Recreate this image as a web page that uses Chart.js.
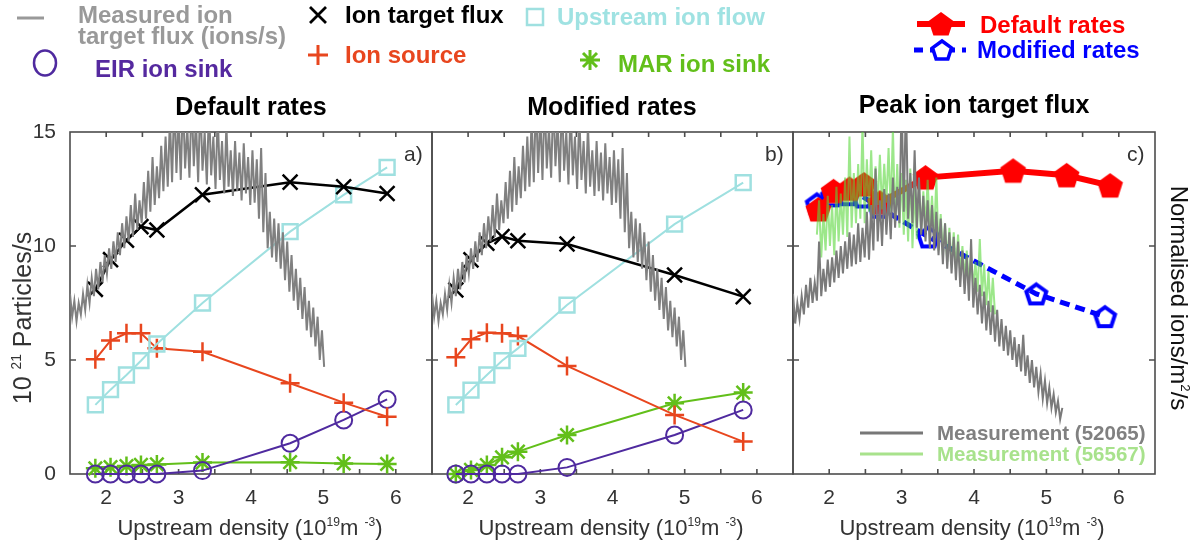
<!DOCTYPE html>
<html><head><meta charset="utf-8">
<script src="https://cdn.jsdelivr.net/npm/chart.js@4.4.1/dist/chart.umd.min.js"></script>
<style>
html,body{margin:0;padding:0;background:#fff;}
#wrap{position:relative;width:1197px;height:550px;overflow:hidden;font-family:'Liberation Sans',Arial,sans-serif;}
canvas{position:absolute;left:0;top:0;}
.t{position:absolute;white-space:nowrap;line-height:1;}
.b{font-weight:bold;}
.sup{font-size:0.55em;position:relative;top:-0.75em;}
</style></head>
<body><div id="wrap">
<canvas id="ca" width="1197" height="550"></canvas>
<canvas id="cb" width="1197" height="550"></canvas>
<canvas id="cc" width="1197" height="550"></canvas>
<svg id="lg" width="1197" height="550" style="position:absolute;left:0;top:0;pointer-events:none"></svg>

<div class="t b" style="left:78px;top:4px;font-size:24px;color:#999;line-height:21px">Measured ion<br>target flux (ions/s)</div>
<div class="t b" style="left:345px;top:15px;transform:translateY(-50%);font-size:24px;color:#000">Ion target flux</div>
<div class="t b" style="left:557px;top:17px;transform:translateY(-50%);font-size:24px;color:#9fe2e2">Upstream ion flow</div>
<div class="t b" style="left:95px;top:69px;transform:translateY(-50%);font-size:24px;color:#55299f">EIR ion sink</div>
<div class="t b" style="left:345px;top:55px;transform:translateY(-50%);font-size:24px;color:#e8461e">Ion source</div>
<div class="t b" style="left:618px;top:64px;transform:translateY(-50%);font-size:24px;color:#62bf1a">MAR ion sink</div>
<div class="t b" style="left:980px;top:25px;transform:translateY(-50%);font-size:24px;color:#ff0000">Default rates</div>
<div class="t b" style="left:977px;top:50px;transform:translateY(-50%);font-size:24px;color:#0000ff">Modified rates</div>

<div class="t b" style="left:251px;top:106px;transform:translate(-50%,-50%);font-size:25px;color:#000">Default rates</div>
<div class="t b" style="left:612px;top:106px;transform:translate(-50%,-50%);font-size:25px;color:#000">Modified rates</div>
<div class="t b" style="left:974px;top:104px;transform:translate(-50%,-50%);font-size:25px;color:#000">Peak ion target flux</div>

<div class="t" style="left:404px;top:153px;transform:translateY(-50%);font-size:21px;color:#333">a)</div>
<div class="t" style="left:765px;top:153px;transform:translateY(-50%);font-size:21px;color:#333">b)</div>
<div class="t" style="left:1127px;top:153px;transform:translateY(-50%);font-size:21px;color:#333">c)</div>

<div class="t b" style="left:937px;top:433px;transform:translateY(-50%);font-size:20.5px;color:#808080">Measurement (52065)</div>
<div class="t b" style="left:937px;top:454px;transform:translateY(-50%);font-size:20.5px;color:#a8e28c">Measurement (56567)</div>

<div class="t" style="left:250px;top:528px;transform:translate(-50%,-50%);font-size:22px;color:#333">Upstream density (10<span class="sup">19</span>m <span class="sup">-3</span>)</div>
<div class="t" style="left:611px;top:528px;transform:translate(-50%,-50%);font-size:22px;color:#333">Upstream density (10<span class="sup">19</span>m <span class="sup">-3</span>)</div>
<div class="t" style="left:972px;top:528px;transform:translate(-50%,-50%);font-size:22px;color:#333">Upstream density (10<span class="sup">19</span>m <span class="sup">-3</span>)</div>

<div class="t" style="left:22px;top:318px;transform:translate(-50%,-50%) rotate(-90deg);font-size:25px;color:#333">10 <span class="sup">21</span> Particles/s</div>
<div class="t" style="left:1179px;top:298px;transform:translate(-50%,-50%) rotate(90deg);font-size:24px;color:#111">Normalised ions/m<span class="sup">2</span>/s</div>
</div>
<script>
// ---------- data ----------
const densityDefault = [1.85, 2.06, 2.28, 2.48, 2.70, 3.33, 4.54, 5.28, 5.88];
const densityModified = [1.83, 2.04, 2.26, 2.47, 2.69, 3.37, 4.86, 5.81];

const ionTargetFluxA = [8.1, 9.4, 10.25, 10.85, 10.7, 12.25, 12.8, 12.6, 12.3];
const upstreamFlowA  = [3.03, 3.7, 4.34, 4.97, 5.7, 7.5, 10.63, 12.24, 13.45];
const ionSourceA     = [5.03, 5.85, 6.17, 6.17, 5.51, 5.36, 3.98, 3.13, 2.51];
const eirSinkA       = [0, 0, 0, 0, 0, 0.15, 1.35, 2.37, 3.27];
const marSinkA       = [0.25, 0.3, 0.35, 0.4, 0.42, 0.5, 0.52, 0.46, 0.44];

const ionTargetFluxB = [8.07, 9.39, 10.12, 10.41, 10.23, 10.09, 8.73, 7.78];
const upstreamFlowB  = [3.03, 3.68, 4.34, 4.97, 5.51, 7.41, 10.96, 12.78];
const ionSourceB     = [5.12, 5.91, 6.2, 6.17, 6.05, 4.74, 2.59, 1.42];
const eirSinkB       = [0, 0, 0, 0, 0, 0.29, 1.71, 2.81];
const marSinkB       = [0, 0.18, 0.39, 0.73, 0.98, 1.71, 3.1, 3.57];

const peakDefault  = [11.6, 12.4, 12.5, 12.7, 11.9, 13.0, 13.3, 13.1, 12.65];
const peakModified = [11.85, 12.2, 12.25, 12.15, 11.7, 10.4, 7.9, 6.9];

const measX_ab = [1.50,1.53,1.56,1.59,1.62,1.65,1.68,1.71,1.74,1.77,1.80,1.83,1.86,1.89,1.92,1.95,1.98,2.01,2.04,2.07,2.10,2.13,2.16,2.19,2.22,2.25,2.28,2.31,2.34,2.37,2.40,2.43,2.46,2.49,2.52,2.55,2.58,2.61,2.64,2.67,2.70,2.73,2.76,2.79,2.82,2.85,2.88,2.91,2.94,2.97,3.00,3.03,3.06,3.09,3.12,3.15,3.18,3.21,3.24,3.27,3.30,3.33,3.36,3.39,3.42,3.45,3.48,3.51,3.54,3.57,3.60,3.63,3.66,3.69,3.72,3.75,3.78,3.81,3.84,3.87,3.90,3.93,3.96,3.99,4.02,4.05,4.08,4.11,4.14,4.17,4.20,4.23,4.26,4.29,4.32,4.35,4.38,4.41,4.44,4.47,4.50,4.53,4.56,4.59,4.62,4.65,4.68,4.71,4.74,4.77,4.80,4.83,4.86,4.89,4.92,4.95,4.98,5.01];
const measY_ab = [7.9,6.9,7.6,6.7,7.5,7.0,7.9,7.2,8.3,7.5,
8.6,7.8,9.0,8.1,9.3,8.4,9.6,8.8,9.9,9.0,
10.2,9.3,10.6,9.6,11.0,9.9,11.3,10.2,11.8,10.4,
12.3,10.7,12.0,11.0,12.8,11.2,13.3,11.5,13.9,11.8,
13.5,12.1,14.4,12.4,14.8,12.6,15.6,12.8,16.5,13.2,
15.8,12.9,16.5,13.4,15.2,13.0,16.5,13.5,15.5,12.8,
16.5,13.3,15.0,12.7,16.2,13.1,14.8,12.5,15.8,12.9,
14.6,12.3,15.3,12.6,14.2,12.2,14.6,12.4,14.1,12.0,
14.5,12.3,13.9,11.8,14.2,11.9,13.8,11.2,14.3,10.6,
13.2,9.9,11.5,9.5,11.2,9.3,11.0,9.0,10.6,8.5,
10.2,8.0,9.6,7.6,9.0,7.2,8.6,6.8,8.2,6.3,
7.6,6.0,7.3,5.6,6.9,5.0,6.3,4.7];

const measX_52065 = [1.50,1.53,1.56,1.59,1.62,1.65,1.68,1.71,1.74,1.77,1.80,1.83,1.86,1.89,1.92,1.95,1.98,2.01,2.04,2.07,2.10,2.13,2.16,2.19,2.22,2.25,2.28,2.31,2.34,2.37,2.40,2.43,2.46,2.49,2.52,2.55,2.58,2.61,2.64,2.67,2.70,2.73,2.76,2.79,2.82,2.85,2.88,2.91,2.94,2.97,3.00,3.03,3.06,3.09,3.12,3.15,3.18,3.21,3.24,3.27,3.30,3.33,3.36,3.39,3.42,3.45,3.48,3.51,3.54,3.57,3.60,3.63,3.66,3.69,3.72,3.75,3.78,3.81,3.84,3.87,3.90,3.93,3.96,3.99,4.02,4.05,4.08,4.11,4.14,4.17,4.20,4.23,4.26,4.29,4.32,4.35,4.38,4.41,4.44,4.47,4.50,4.53,4.56,4.59,4.62,4.65,4.68,4.71,4.74,4.77,4.80,4.83,4.86,4.89,4.92,4.95,4.98,5.01,5.04,5.07,5.10,5.13,5.16,5.19,5.22];
const measY_52065 = [7.9,6.6,7.5,6.8,7.8,7.0,8.3,7.3,8.6,7.5,
8.4,7.6,10.2,7.8,9.0,8.0,9.4,8.2,9.5,8.4,
9.8,8.6,10.0,8.8,10.2,9.0,10.6,9.1,10.5,9.2,
11.0,9.3,10.8,9.5,11.5,9.4,11.8,9.8,13.4,10.2,
12.0,10.0,12.5,10.5,12.3,10.3,13.0,10.8,12.6,11.0,
16.5,11.5,16.5,11.2,13.2,11.0,14.2,10.8,13.0,10.5,
12.2,10.2,12.0,9.9,11.8,9.8,11.5,9.6,11.2,9.2,
11.0,9.0,10.6,8.8,10.4,8.5,10.2,8.2,9.8,7.9,
9.5,7.6,10.3,7.3,8.6,7.0,8.3,6.6,8.0,6.3,
7.6,6.1,7.4,5.8,7.2,5.6,6.8,5.4,6.5,5.2,
6.3,5.0,6.0,4.7,5.7,4.5,6.1,4.3,5.2,4.0,
5.0,3.8,4.7,3.6,4.4,3.3,4.1,3.1,3.8,2.9,
3.5,2.7,3.2,2.4,2.9];

const measX_56567 = [1.83,1.86,1.89,1.92,1.95,1.98,2.01,2.04,2.07,2.10,2.13,2.16,2.19,2.22,2.25,2.28,2.31,2.34,2.37,2.40,2.43,2.46,2.49,2.52,2.55,2.58,2.61,2.64,2.67,2.70,2.73,2.76,2.79,2.82,2.85,2.88,2.91,2.94,2.97,3.00,3.03,3.06,3.09,3.12,3.15,3.18,3.21,3.24,3.27,3.30,3.33,3.36,3.39,3.42,3.45,3.48,3.51,3.54,3.57,3.60,3.63,3.66,3.69,3.72,3.75,3.78,3.81,3.84,3.87,3.90,3.93,3.96,3.99,4.02,4.05,4.08,4.11,4.14,4.17,4.20,4.23,4.26,4.29];
const measY_56567 = [10.5,12.0,9.5,11.4,9.8,12.2,10.0,11.8,9.6,12.6,
10.2,12.3,10.5,13.0,10.4,14.8,10.8,13.2,11.0,13.6,
11.2,15.4,11.0,13.8,11.5,14.2,11.3,13.5,11.8,14.0,
11.6,13.6,11.9,14.3,11.5,15.2,11.0,13.6,10.8,13.2,
10.5,12.9,10.2,13.4,9.9,12.6,10.3,12.8,10.6,12.4,
10.9,12.9,10.7,12.2,10.4,13.0,9.8,11.4,9.6,11.0,
9.3,10.8,9.2,10.6,9.0,10.5,8.8,10.0,8.6,9.8,
8.4,9.5,8.2,9.3,8.0,10.3,7.8,9.2,7.4,8.9,
7.1,8.6,7.0];

const xTickLabels = [2, 3, 4, 5, 6];
const xTickMarks = [2, 2.5, 3, 3.5, 4, 4.5, 5, 5.5, 6];
const yTickMarks = [5, 10];

// ---------- colours ----------
const C = {black:'#000000', cyan:'#9fe0e0', red:'#e8461e', purple:'#4f2a9f', green:'#62bf1a', gray:'#808080'};

// ---------- helpers ----------
const FONT = "'Liberation Sans Narrow','Liberation Sans',Arial,sans-serif";
function pentagonCanvas(r, fill, stroke, lw) {
  const s = Math.ceil(2 * r + lw + 4);
  const c = document.createElement('canvas'); c.width = s; c.height = s;
  const g = c.getContext('2d');
  g.beginPath();
  for (let i = 0; i < 5; i++) { const a = -Math.PI / 2 + i * 2 * Math.PI / 5; g.lineTo(s / 2 + r * Math.cos(a), s / 2 + 1 + r * Math.sin(a)); }
  g.closePath();
  if (fill) { g.fillStyle = fill; g.fill(); }
  if (stroke) { g.strokeStyle = stroke; g.lineWidth = lw; g.lineJoin = 'miter'; g.stroke(); }
  return c;
}
const redPent = pentagonCanvas(13.5, '#ff0000', null, 0);
const bluePent = pentagonCanvas(10.5, null, '#0000ff', 4);

function pts(xs, ys) { return xs.map((x, i) => ({x: x, y: ys[i]})); }
function series(xs, ys, color, style, radius, extra) {
  return Object.assign({
    data: pts(xs, ys), borderColor: color, backgroundColor: 'rgba(0,0,0,0)',
    pointBorderColor: color, pointBackgroundColor: 'rgba(0,0,0,0)',
    pointStyle: style, pointRadius: radius, pointBorderWidth: 2.5,
    borderWidth: 2, showLine: true, tension: 0, clip: false
  }, extra || {});
}
function trace(xs, ys, color, w) {
  return {data: pts(xs, ys), borderColor: color, borderWidth: w, pointRadius: 0, showLine: true, tension: 0, clip: 0};
}

const boxPlugin = {
  id: 'box',
  beforeDatasetsDraw(chart) {
    const {ctx, chartArea: a, scales} = chart;
    ctx.save();
    ctx.strokeStyle = '#4d4d4d'; ctx.lineWidth = 1.6;
    ctx.strokeRect(a.left, a.top, a.right - a.left, a.bottom - a.top);
    ctx.beginPath();
    xTickMarks.forEach(v => { const p = scales.x.getPixelForValue(v);
      ctx.moveTo(p, a.bottom); ctx.lineTo(p, a.bottom - 5); ctx.moveTo(p, a.top); ctx.lineTo(p, a.top + 5); });
    yTickMarks.forEach(v => { const p = scales.y.getPixelForValue(v);
      ctx.moveTo(a.left, p); ctx.lineTo(a.left + 6, p); ctx.moveTo(a.right, p); ctx.lineTo(a.right - 6, p); });
    ctx.stroke();
    ctx.restore();
  }
};

function options(padL, padR, yW, showY) {
  return {
    responsive: false, animation: false,
    layout: {padding: {left: padL, right: padR, top: 132, bottom: 36}},
    plugins: {legend: {display: false}, tooltip: {enabled: false}, title: {display: false}},
    scales: {
      x: {type: 'linear', min: 1.5, max: 6.5,
          afterFit(s) { s.height = 40; s.paddingLeft = 0; s.paddingRight = 0; },
          grid: {display: false, drawTicks: false}, border: {display: false},
          ticks: {stepSize: 0.5, autoSkip: false, maxRotation: 0, padding: 12, color: '#333',
                  font: {family: FONT, size: 21},
                  callback: v => xTickLabels.includes(v) ? String(v) : ''}},
      y: {type: 'linear', min: 0, max: 15,
          afterFit(s) { s.width = yW; s.paddingTop = 0; s.paddingBottom = 0; },
          grid: {display: false, drawTicks: false}, border: {display: false},
          ticks: {display: showY, stepSize: 5, padding: 14, color: '#333', font: {family: FONT, size: 21}}}
    }
  };
}

function panelSeries(xs, target, flow, source, eir, mar) {
  return [
    series(xs, target, C.black, 'crossRot', 10.5, {borderWidth: 2.5}),
    series(xs, flow, C.cyan, 'rect', 10.5),
    series(xs, source, C.red, 'cross', 9.5),
    series(xs, eir, C.purple, 'circle', 8.5, {pointBorderWidth: 2}),
    series(xs, mar, C.green, 'star', 9.5)
  ];
}

// ---------- panel a ----------
new Chart(document.getElementById('ca'), {
  type: 'scatter',
  data: {datasets: [trace(measX_ab, measY_ab, C.gray, 2)].concat(
    panelSeries(densityDefault, ionTargetFluxA, upstreamFlowA, ionSourceA, eirSinkA, marSinkA))},
  options: options(0, 1197 - 432, 70, true),
  plugins: [boxPlugin]
});

// ---------- panel b ----------
new Chart(document.getElementById('cb'), {
  type: 'scatter',
  data: {datasets: [trace(measX_ab, measY_ab, C.gray, 2)].concat(
    panelSeries(densityModified, ionTargetFluxB, upstreamFlowB, ionSourceB, eirSinkB, marSinkB))},
  options: options(422, 1197 - 793, 10, false),
  plugins: [boxPlugin]
});

// ---------- panel c ----------
new Chart(document.getElementById('cc'), {
  type: 'scatter',
  data: {datasets: [
    trace(measX_52065, measY_52065, '#7a7a7a', 2),
    trace(measX_56567, measY_56567, 'rgba(90,215,60,0.6)', 2),
    {data: pts(densityDefault, peakDefault), borderColor: '#ff0000', borderWidth: 6, showLine: true, tension: 0,
     pointStyle: redPent, pointRadius: 12, clip: false},
    {data: pts(densityModified, peakModified), borderColor: '#0000ff', borderWidth: 5, borderDash: [10, 6], showLine: true, tension: 0,
     pointStyle: bluePent, pointRadius: 11, clip: false}
  ]},
  options: options(783, 1197 - 1155, 10, false),
  plugins: [boxPlugin]
});

// ---------- legend markers (svg) ----------
const NS = 'http://www.w3.org/2000/svg';
const svg = document.getElementById('lg');
function el(tag, attrs) { const e = document.createElementNS(NS, tag); for (const k in attrs) e.setAttribute(k, attrs[k]); svg.appendChild(e); return e; }
function pentPoints(cx, cy, r) { const p = []; for (let i = 0; i < 5; i++) { const a = -Math.PI / 2 + i * 2 * Math.PI / 5; p.push((cx + r * Math.cos(a)).toFixed(1) + ',' + (cy + r * Math.sin(a)).toFixed(1)); } return p.join(' '); }
el('line', {x1: 17, y1: 18, x2: 44, y2: 18, stroke: '#999', 'stroke-width': 3});
el('path', {d: 'M310 7 L326 23 M310 23 L326 7', stroke: '#000', 'stroke-width': 2.8, fill: 'none'});
el('rect', {x: 527, y: 9, width: 16, height: 16, stroke: C.cyan, 'stroke-width': 2.5, fill: 'none'});
el('ellipse', {cx: 45, cy: 63, rx: 11, ry: 12.5, stroke: C.purple, 'stroke-width': 2.5, fill: 'none'});
el('path', {d: 'M308 55 L328 55 M318 45 L318 65', stroke: C.red, 'stroke-width': 3, fill: 'none'});
el('path', {d: 'M580 60 L600 60 M590 50 L590 70 M583 53 L597 67 M583 67 L597 53', stroke: C.green, 'stroke-width': 3, fill: 'none'});
el('line', {x1: 917, y1: 24, x2: 965, y2: 24, stroke: '#ff0000', 'stroke-width': 6});
el('polygon', {points: pentPoints(941, 25, 13), fill: '#ff0000'});
el('line', {x1: 914, y1: 50, x2: 966, y2: 50, stroke: '#0000ff', 'stroke-width': 5, 'stroke-dasharray': '9,7'});
el('polygon', {points: pentPoints(942, 51, 10), fill: '#fff', stroke: '#0000ff', 'stroke-width': 3.5});
el('line', {x1: 860, y1: 433, x2: 923, y2: 433, stroke: '#777', 'stroke-width': 3});
el('line', {x1: 860, y1: 454, x2: 923, y2: 454, stroke: '#a8e28c', 'stroke-width': 3});
</script>
</body></html>
